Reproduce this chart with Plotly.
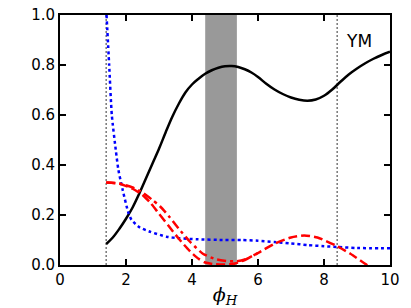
import plotly.graph_objects as go

# Black solid curve
x_black = [1.4, 1.6, 1.8, 2.0, 2.2, 2.4, 2.6, 2.8, 3.0, 3.2, 3.4, 3.6, 3.8, 4.0, 4.2, 4.4, 4.6, 4.8, 5.0, 5.2,
           5.4, 5.6, 5.8, 6.0, 6.25, 6.5, 6.75, 7.0, 7.25, 7.5, 7.75, 8.0, 8.25, 8.5, 8.75, 9.0, 9.25, 9.5, 9.75, 10.0]
y_black = [0.084, 0.11, 0.145, 0.185, 0.23, 0.285, 0.345, 0.405, 0.465, 0.53, 0.592, 0.645, 0.69, 0.722, 0.745, 0.765, 0.779, 0.789, 0.795, 0.796,
           0.792, 0.783, 0.77, 0.752, 0.725, 0.702, 0.684, 0.67, 0.661, 0.657, 0.662, 0.677, 0.702, 0.733, 0.762, 0.786, 0.807, 0.825, 0.84, 0.853]

# Blue dotted curve
x_blue = [1.41, 1.49, 1.57, 1.69, 1.77, 1.9, 2.07, 2.17, 2.42, 2.73, 3.23, 3.6, 4.14, 5.0, 5.5, 6.0, 6.5, 7.0, 7.5, 8.0, 8.4, 9.0, 10.0]
y_blue = [1.0, 0.8, 0.6, 0.46, 0.38, 0.3, 0.21, 0.18, 0.15, 0.133, 0.113, 0.107, 0.103, 0.1, 0.1, 0.097, 0.092, 0.086, 0.08, 0.075, 0.072, 0.068, 0.067]

# Red dashed curve
x_red_dash = [1.4, 1.8, 2.2, 2.5, 2.73, 3.0, 3.3, 3.6, 3.94, 4.2, 4.4, 4.7, 5.0, 5.3, 5.6, 6.0, 6.5, 7.0, 7.4, 7.8, 8.4, 8.8, 9.3, 9.6]
y_red_dash = [0.33, 0.325, 0.305, 0.28, 0.25, 0.205, 0.155, 0.105, 0.055, 0.025, 0.01, 0.003, 0.002, 0.006, 0.02, 0.048, 0.085, 0.11, 0.118, 0.11, 0.075, 0.045, 0.0, -0.025]

# Red dash-dot curve
x_red_dashdot = [1.4, 1.8, 2.2, 2.5, 2.8, 3.03, 3.3, 3.6, 3.94, 4.33, 4.75, 5.1, 5.35, 5.6, 6.0]
y_red_dashdot = [0.33, 0.326, 0.31, 0.29, 0.26, 0.235, 0.195, 0.145, 0.093, 0.045, 0.022, 0.015, 0.015, 0.022, 0.048]

vlines = [1.4, 8.4]
band = [4.4, 5.36]
x_ticks = [0, 2, 4, 6, 8, 10]
y_ticks = [0.0, 0.2, 0.4, 0.6, 0.8, 1.0]

fig = go.Figure()

fig.add_vrect(x0=band[0], x1=band[1], fillcolor="#999999", opacity=1, line_width=0, layer="below")
for xv in vlines:
    fig.add_vline(x=xv, line=dict(color="#808080", width=1.6, dash="2px,2px"), layer="below")

fig.add_trace(go.Scatter(x=x_black, y=y_black, mode="lines",
                         line=dict(color="black", width=2.5, shape="spline", smoothing=1)))
fig.add_trace(go.Scatter(x=x_blue, y=y_blue, mode="lines",
                         line=dict(color="blue", width=2.5, dash="3px,3px", shape="spline", smoothing=0.6)))
fig.add_trace(go.Scatter(x=x_red_dashdot, y=y_red_dashdot, mode="lines",
                         line=dict(color="red", width=2.5, dash="9px,4px,3px,4px", shape="spline", smoothing=0.6)))
fig.add_trace(go.Scatter(x=x_red_dash, y=y_red_dash, mode="lines",
                         line=dict(color="red", width=2.5, dash="9px,4px", shape="spline", smoothing=0.6)))

fig.add_annotation(x=9.05, y=0.895, text="YM", showarrow=False,
                   font=dict(size=17, color="black", family="DejaVu Sans"))

axis_common = dict(showline=True, linecolor="black", linewidth=2, mirror="ticks", ticks="inside",
                   ticklen=6, tickwidth=2, tickcolor="black", showgrid=False, zeroline=False,
                   automargin=False, ticklabeloverflow="allow",
                   tickfont=dict(size=15, color="black", family="DejaVu Sans"))

fig.update_xaxes(range=[0, 10], tickvals=x_ticks, ticktext=[str(v) for v in x_ticks],
                 title=dict(text="<i>ϕ</i><sub><i>H</i></sub>",
                            font=dict(size=19, family="DejaVu Serif", color="black"), standoff=2),
                 **axis_common)
fig.update_yaxes(range=[0, 1.0], tickvals=y_ticks, ticktext=[f"{v:.1f}" for v in y_ticks], **axis_common)

fig.update_layout(width=411, height=308, margin=dict(l=60, r=21, t=15, b=43),
                  plot_bgcolor="white", paper_bgcolor="white", showlegend=False)

fig.write_html("out.html", config={"displayModeBar": False},
               post_script="document.body.style.margin='0';")
